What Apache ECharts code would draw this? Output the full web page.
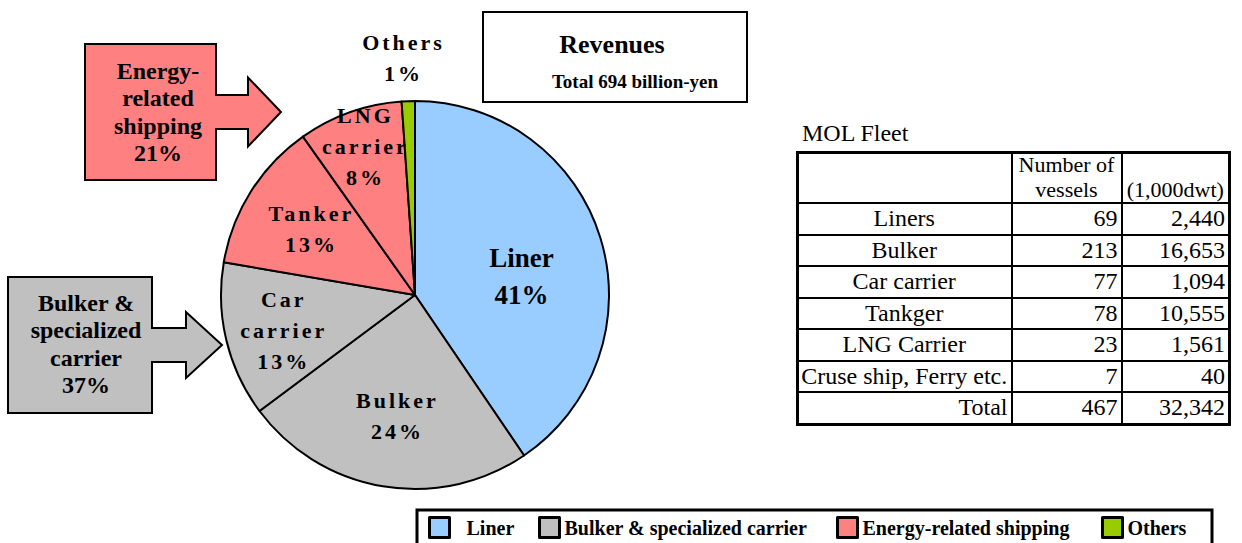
<!DOCTYPE html>
<html>
<head>
<meta charset="utf-8">
<script src="https://cdn.jsdelivr.net/npm/echarts@6/dist/echarts.min.js"></script>
<style>
  html, body { margin: 0; padding: 0; background: #fff; }
  #wrap { position: relative; width: 1242px; height: 543px; overflow: hidden; }
  #chart { position: absolute; left: 0; top: 0; width: 1242px; height: 543px; }
  /* slice labels in the original are letter-spaced */
  #chart svg text[style*="22px"] { letter-spacing: 3px; }
  #fleetTitle {
    position: absolute; left: 802px; top: 120px;
    font: 24px "Liberation Serif", serif; color: #000;
  }
  #fleet {
    position: absolute; left: 796px; top: 151px;
    border-collapse: collapse; table-layout: fixed;
    font: 24px "Liberation Serif", serif; color: #000;
    border: 3px solid #000;
  }
  #fleet td {
    border: 2px solid #000; padding: 0 3px 0 2px;
    height: 29.5px; line-height: 27px; white-space: nowrap; overflow: hidden;
  }
  #fleet td.name { text-align: center; }
  #fleet td.num { text-align: right; }
  #fleet tr.head td {
    height: 48px; vertical-align: top; text-align: center;
    font-size: 22px; line-height: 25px; padding: 0 2px;
  }
  #fleet tr.head td span { display: block; margin-top: -2px; }
  #fleet tr.total td.name { text-align: right; }
</style>
</head>
<body>
<div id="wrap">
  <div id="chart"></div>
  <div id="fleetTitle">MOL Fleet</div>
  <table id="fleet">
    <colgroup><col style="width:214px"><col style="width:110px"><col style="width:108px"></colgroup>
    <tbody id="fleetBody"></tbody>
  </table>
</div>
<script>
// Revenue slices, clockwise from 12 o'clock (share of revenues, %)
const sliceNames = ["Liner", "Bulker", "Car\ncarrier", "Tanker", "LNG\ncarrier", "Others"];
const sliceValues = [40.5, 24.3, 12.9, 12.5, 8.7, 1.1];
const slicePct = ["41%", "24%", "13%", "13%", "8%", "1%"];
const sliceGroup = [0, 1, 1, 2, 2, 3];

// Business groups (legend + callouts)
const groupNames = ["Liner", "Bulker & specialized carrier", "Energy-related shipping", "Others"];
const groupPct = ["41%", "37%", "21%", "1%"];
const groupColors = ["#99ccff", "#c0c0c0", "#ff8080", "#99cc00"];

// MOL fleet table
const fleetTypes = ["Liners", "Bulker", "Car carrier", "Tankger", "LNG Carrier", "Cruse ship, Ferry etc."];
const fleetVessels = [69, 213, 77, 78, 23, 7];
const fleetDwt = [2440, 16653, 1094, 10555, 1561, 40];
const fleetTotal = { vessels: 467, dwt: 32342 };

const SERIF = "'Liberation Serif', 'Times New Roman', serif";

// label nudges from the default inside position
const labelShift = [[11, 11], [-1, 22], [-34, 12], [-19, -13], [-16, -54], [-8, -137]];

const fmt = (v) => v.toLocaleString("en-US");

// table
const body = document.getElementById("fleetBody");
let rows = '<tr class="head"><td></td><td><span>Number of<br>vessels</span></td><td><span>&nbsp;<br>(1,000dwt)</span></td></tr>';
fleetTypes.forEach((t, i) => {
  rows += `<tr><td class="name">${t}</td><td class="num">${fleetVessels[i]}</td><td class="num">${fmt(fleetDwt[i])}</td></tr>`;
});
rows += `<tr class="total"><td class="name">Total</td><td class="num">${fleetTotal.vessels}</td><td class="num">${fmt(fleetTotal.dwt)}</td></tr>`;
body.innerHTML = rows;

const chart = echarts.init(document.getElementById("chart"), null, { renderer: "svg" });

const pieData = sliceNames.map((n, i) => ({
  name: n.replace("\n", " "),
  value: sliceValues[i],
  itemStyle: { color: groupColors[sliceGroup[i]] },
  label: {
    formatter: n + "\n" + slicePct[i],
    fontSize: i === 0 ? 27 : 22,
    lineHeight: i === 0 ? 37 : 31,
  },
}));

function callout(x, y, w, h, shaft, head, color, text, tx, ty) {
  // box + block arrow pointing right
  const r = x + w, my = y + h / 2;
  return [
    {
      type: "polygon",
      shape: {
        points: [
          [x, y], [r, y], [r, my - shaft.h / 2], [r + shaft.w, my - shaft.h / 2],
          [r + shaft.w, my - head.h / 2], [r + shaft.w + head.w, my],
          [r + shaft.w, my + head.h / 2], [r + shaft.w, my + shaft.h / 2],
          [r, my + shaft.h / 2], [r, y + h], [x, y + h],
        ],
      },
      style: { fill: color, stroke: "#000", lineWidth: 2 },
    },
    {
      type: "text",
      x: tx, y: ty,
      style: {
        text, fill: "#000", font: "bold 24px " + SERIF,
        align: "center", verticalAlign: "middle", lineHeight: 27.5,
      },
    },
  ];
}

const graphic = [
  // Revenues box
  { type: "rect", shape: { x: 483, y: 12, width: 264, height: 90 }, style: { fill: "#fff", stroke: "#000", lineWidth: 2 } },
  { type: "text", x: 612, y: 44, style: { text: "Revenues", font: "bold 26px " + SERIF, fill: "#000", align: "center", verticalAlign: "middle" } },
  { type: "text", x: 635, y: 81, style: { text: "Total 694 billion-yen", font: "bold 19px " + SERIF, fill: "#000", align: "center", verticalAlign: "middle" } },
  // legend frame
  { type: "rect", shape: { x: 417, y: 510, width: 795, height: 40 }, style: { fill: "none", stroke: "#000", lineWidth: 3 } },
  ...callout(85, 44, 131, 136, { w: 32, h: 34 }, { w: 33, h: 69 }, groupColors[2],
    "Energy-\nrelated\nshipping\n" + groupPct[2], 158, 112),
  ...callout(8, 277, 144, 136, { w: 34, h: 34 }, { w: 36, h: 66 }, groupColors[1],
    "Bulker &\nspecialized\ncarrier\n" + groupPct[1], 86, 344),
];

const legendLeft = [428, 538, 836, 1101];
const legends = groupNames.map((g, i) => ({
  data: [g],
  left: legendLeft[i],
  top: 516,
  orient: "horizontal",
  icon: "rect",
  itemWidth: 20,
  itemHeight: 20,
  padding: 0,
  selectedMode: false,
  itemStyle: { borderColor: "#000", borderWidth: 3 },
  textStyle: {
    fontFamily: SERIF, fontWeight: "bold", fontSize: 20, color: "#000",
    padding: i === 0 ? [0, 0, 0, 12] : 0,
  },
}));

chart.setOption({
  animation: false,
  backgroundColor: "#fff",
  legend: legends,
  graphic,
  series: [
    {
      type: "pie",
      center: [415, 295],
      radius: [0, 194],
      startAngle: 90,
      clockwise: true,
      silent: true,
      data: pieData,
      itemStyle: { borderColor: "#000", borderWidth: 2 },
      label: {
        show: true,
        position: "inside",
        color: "#000",
        fontFamily: SERIF,
        fontWeight: "bold",
        align: "center",
      },
      labelLine: { show: false },
      labelLayout: (p) => ({ dx: labelShift[p.dataIndex][0], dy: labelShift[p.dataIndex][1] }),
    },
    {
      // group totals, only feeds the legend
      type: "pie",
      center: [415, 295],
      radius: [0, 0],
      silent: true,
      label: { show: false },
      labelLine: { show: false },
      data: groupNames.map((g, i) => ({
        name: g,
        value: parseFloat(groupPct[i]),
        itemStyle: { color: groupColors[i] },
      })),
    },
  ],
});
</script>
</body>
</html>
